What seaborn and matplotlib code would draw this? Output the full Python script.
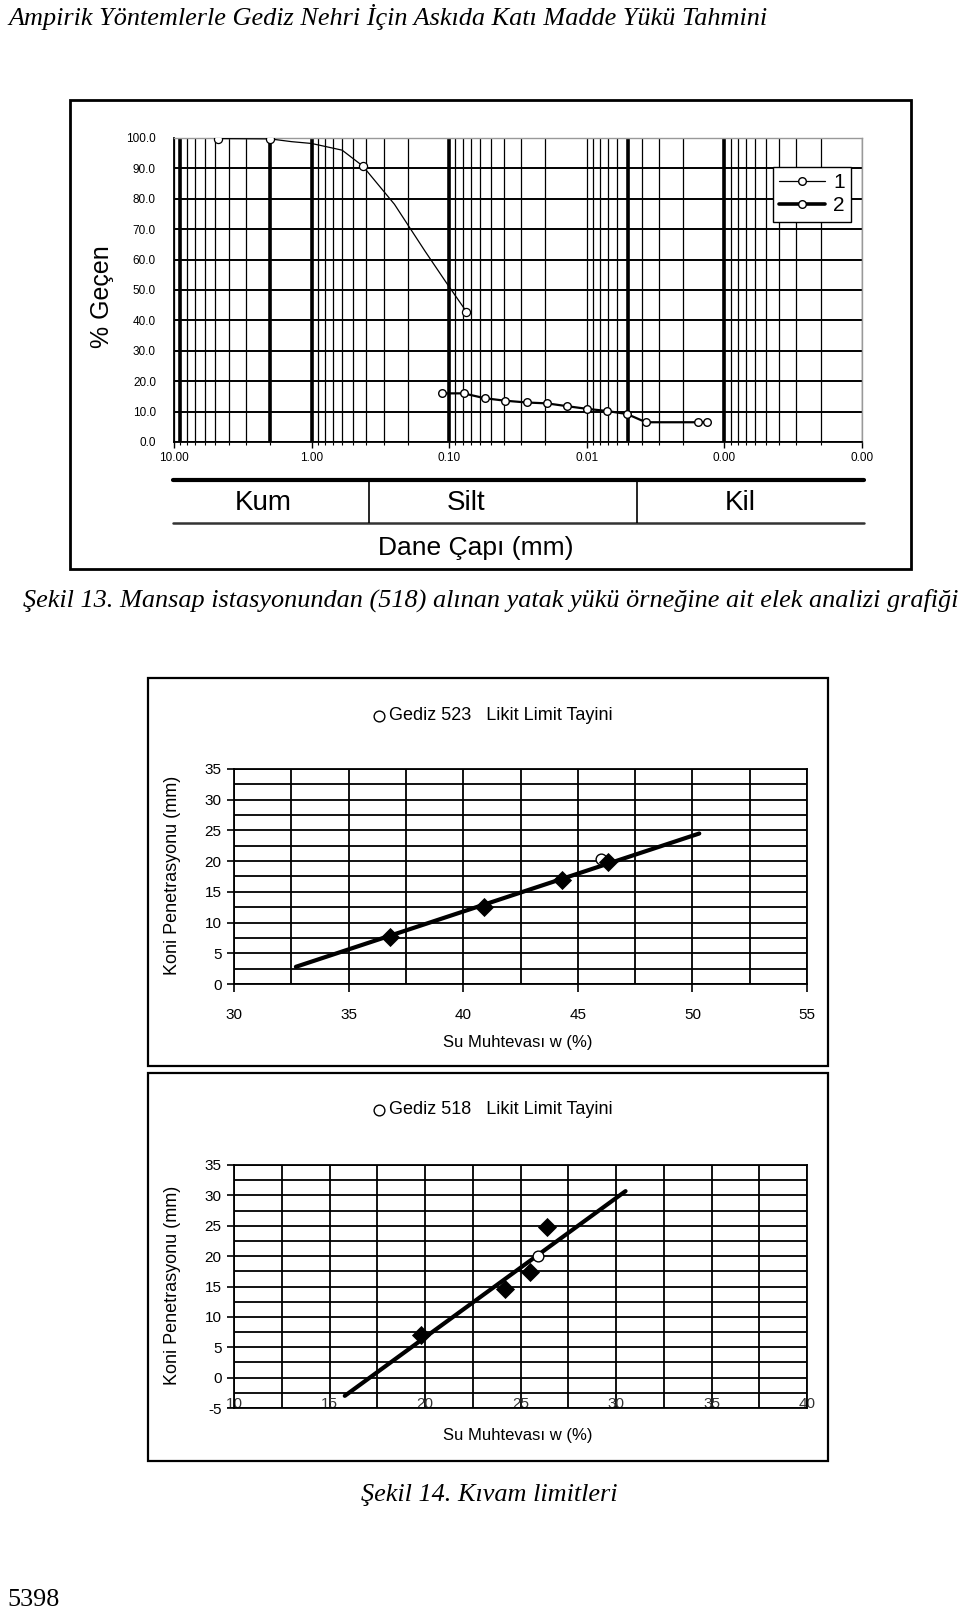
import numpy as np
import pandas as pd
import matplotlib
matplotlib.use("Agg")
import matplotlib.pyplot as plt
import seaborn as sns
from matplotlib.patches import Rectangle
from matplotlib.lines import Line2D
from matplotlib.ticker import FixedLocator, LogLocator, NullFormatter, MultipleLocator, FuncFormatter

# ---------------- data ----------------
header = "Ampirik Yöntemlerle Gediz Nehri İçin Askıda Katı Madde Yükü Tahmini"
caption13 = "Şekil 13. Mansap istasyonundan (518) alınan yatak yükü örneğine ait elek analizi grafiği"
caption14 = "Şekil 14. Kıvam limitleri"
page_no = "5398"

# grain size distribution (Sekil 13)
s1_diam = [4.75, 2.0, 1.4, 1.0, 0.6, 0.425, 0.25, 0.15, 0.106, 0.075]
s1_pass = [99.8, 99.7, 98.8, 98.2, 96.0, 90.8, 78.2, 62.8, 52.7, 42.9]
s1_marked = [True, True, False, False, False, True, False, False, False, True]
s2_diam = [0.112, 0.0787, 0.0551, 0.0395, 0.0274, 0.0194, 0.0140, 0.00995,
           0.00713, 0.0051, 0.00372, 0.00156, 0.00134]
s2_pass = [16.0, 16.0, 14.4, 13.6, 13.0, 12.7, 11.8, 10.9, 10.2, 9.2, 6.5, 6.5, 6.5]
series_labels = ["1", "2"]
grain_ticks = [10, 1, 0.1, 0.01, 0.001, 0.0001]
heavy_grid = [9, 2, 1, 0.1, 0.005, 0.001]
soil_classes = ["Kum", "Silt", "Kil"]

# cone penetration (Sekil 14)
w523 = [36.8, 40.9, 44.3, 46.3]
pen523 = [7.7, 12.6, 16.9, 19.9]
ll523_w = [46.0]
ll523_p = [20.3]
fit523_w = [32.7, 50.3]
fit523_p = [2.8, 24.5]

w518 = [19.8, 24.2, 25.5, 26.4]
pen518 = [7.0, 14.6, 17.4, 24.8]
ll518_w = [25.9]
ll518_p = [20.1]
fit518_w = [15.8, 30.5]
fit518_p = [-3.0, 30.7]

# ---------------- style ----------------
sns.set_theme(style="white", rc={"text.color": "black", "axes.labelcolor": "black",
                                 "xtick.color": "black", "ytick.color": "black",
                                 "axes.edgecolor": "black"})
plt.rcParams['font.family'] = ['Liberation Sans', 'DejaVu Sans']
plt.rcParams['axes.unicode_minus'] = False
SERIF = ['Liberation Serif', 'DejaVu Serif']

W, H = 960, 1617
fig = plt.figure(figsize=(W / 100, H / 100), dpi=100)
fig.patch.set_facecolor("white")


def rect(x0, y0, x1, y1):
    return [x0 / W, 1 - y1 / H, (x1 - x0) / W, (y1 - y0) / H]


def frame(x0, y0, x1, y1, lw):
    fig.patches.append(Rectangle((x0 / W, 1 - y1 / H), (x1 - x0) / W, (y1 - y0) / H,
                                 transform=fig.transFigure, fill=False,
                                 edgecolor="black", lw=lw))


# page texts
fig.text(8 / W, 1 - 17 / H, header, ha="left", va="center", fontsize=18.9,
         style="italic", family=SERIF)
fig.text(23 / W, 1 - 600 / H, caption13, ha="left", va="center", fontsize=18.9,
         style="italic", family=SERIF)
fig.text(489 / W, 1 - 1495 / H, caption14, ha="center", va="center", fontsize=18.9,
         style="italic", family=SERIF)
fig.text(7 / W, 1 - 1600 / H, page_no, ha="left", va="center", fontsize=18.8, family=SERIF)

# ---------------- Sekil 13 ----------------
frame(70, 100, 911, 569, 2.0)
ax1 = fig.add_axes(rect(174, 138, 862, 442))
ax1.set_xscale("log")
sieve = pd.DataFrame({"d": s1_diam, "p": s1_pass, "marked": s1_marked})
hydro = pd.DataFrame({"d": s2_diam, "p": s2_pass})
sns.lineplot(data=sieve, x="d", y="p", ax=ax1, color="black", lw=0.9,
             sort=False, estimator=None, zorder=3)
sns.scatterplot(data=sieve[sieve["marked"]], x="d", y="p", ax=ax1, marker="o", s=34,
                color="white", edgecolor="black", linewidth=0.9, zorder=4)
sns.lineplot(data=hydro, x="d", y="p", ax=ax1, color="black", lw=1.6,
             sort=False, estimator=None, zorder=3)
sns.scatterplot(data=hydro, x="d", y="p", ax=ax1, marker="o", s=30,
                color="white", edgecolor="black", linewidth=1.0, zorder=4)
ax1.set_xlim(grain_ticks[0], grain_ticks[-1])
ax1.set_ylim(0, 100)
ax1.xaxis.set_major_locator(FixedLocator(grain_ticks))
ax1.xaxis.set_minor_locator(LogLocator(base=10, subs=np.arange(2, 10)))
ax1.xaxis.set_major_formatter(FuncFormatter(lambda v, _: f"{v:.2f}"))
ax1.xaxis.set_minor_formatter(NullFormatter())
ax1.yaxis.set_major_locator(MultipleLocator(10))
ax1.yaxis.set_major_formatter(FuncFormatter(lambda v, _: f"{v:.1f}"))
ax1.set_axisbelow(True)
ax1.grid(True, which="both", axis="x", color="black", lw=0.9)
ax1.grid(True, which="major", axis="y", color="black", lw=1.4)
for v in heavy_grid:
    ax1.axvline(v, color="black", lw=2.6, zorder=1)
for s in ["top", "right"]:
    ax1.spines[s].set_color("#999999")
    ax1.spines[s].set_linewidth(1.0)
for s in ["left", "bottom"]:
    ax1.spines[s].set_color("black")
    ax1.spines[s].set_linewidth(1.3)
ax1.tick_params(axis="x", which="major", bottom=True, length=4, width=1, pad=3, labelsize=8.5)
ax1.tick_params(axis="x", which="minor", bottom=True, length=2.5, width=0.8)
ax1.tick_params(axis="y", which="both", left=False, pad=7, labelsize=8.5)
ax1.set_xlabel("")
ax1.set_ylabel("% Geçen", fontsize=18)
ax1.yaxis.set_label_coords(-0.105, 0.477)
ax1.yaxis.label.set_va("center")

h1 = Line2D([], [], color="black", lw=0.9, marker="o", ms=5.5, mfc="white", mec="black")
h2 = Line2D([], [], color="black", lw=2.6, marker="o", ms=5.5, mfc="white", mec="black")
ax1.legend([h1, h2], series_labels, loc="upper left",
           bbox_to_anchor=(773 / W, 1 - 167 / H), bbox_transform=fig.transFigure,
           frameon=True, fancybox=False, edgecolor="black", framealpha=1,
           fontsize=15, handlelength=2.2, borderpad=0.3, labelspacing=0.2,
           handletextpad=0.4, borderaxespad=0)

axt = fig.add_axes(rect(173, 480, 864, 523))
axt.set_axis_off()
axt.set_xlim(0, 1)
axt.set_ylim(0, 1)
axt.plot([0, 1], [1, 1], color="black", lw=3.0, clip_on=False)
axt.plot([0, 1], [0, 0], color="#333333", lw=1.8, clip_on=False)
for xf in [0.2836, 0.6715]:
    axt.plot([xf, xf], [0, 1], color="black", lw=1.2)
for name, xf in zip(soil_classes, [0.130, 0.424, 0.8205]):
    axt.text(xf, 0.47, name, ha="center", va="center", fontsize=20)
fig.text(476 / W, 1 - 548 / H, "Dane Çapı (mm)", ha="center", va="center", fontsize=19)


# ---------------- Sekil 14 ----------------
def cone_chart(axrect, xlim, ylim, w, p, llw, llp, fw, fp, title, title_xy,
               xlabel_y, overlap_labels):
    ax = fig.add_axes(axrect)
    sns.lineplot(x=fw, y=fp, ax=ax, color="black", lw=3.0, sort=False,
                 estimator=None, zorder=3)
    sns.scatterplot(x=llw, y=llp, ax=ax, marker="o", s=60, color="white",
                    edgecolor="black", linewidth=1.0, zorder=4, label=title)
    sns.scatterplot(x=w, y=p, ax=ax, marker="D", s=95, color="black",
                    linewidth=0, zorder=5)
    ax.set_xlim(*xlim)
    ax.set_ylim(*ylim)
    ax.xaxis.set_major_locator(MultipleLocator(5))
    ax.xaxis.set_minor_locator(MultipleLocator(2.5))
    ax.yaxis.set_major_locator(MultipleLocator(5))
    ax.yaxis.set_minor_locator(MultipleLocator(2.5))
    ax.set_axisbelow(True)
    ax.grid(True, which="both", color="black", lw=1.3)
    for s in ax.spines.values():
        s.set_color("black")
        s.set_linewidth(1.3)
    ax.tick_params(axis="y", which="major", left=True, length=5, width=1.2,
                   pad=4, labelsize=11)
    ax.tick_params(axis="y", which="minor", left=False)
    if overlap_labels:
        ax.tick_params(axis="x", which="both", bottom=False, length=0, pad=-8,
                       labelsize=11, labelcolor="#333333")
    else:
        ax.tick_params(axis="x", which="major", bottom=True, length=6, width=1.2,
                       pad=11, labelsize=11)
        ax.tick_params(axis="x", which="minor", bottom=False)
    ax.set_xlabel("Su Muhtevası w (%)", fontsize=12)
    ax.xaxis.set_label_coords(0.496, xlabel_y)
    ax.xaxis.label.set_va("center")
    ax.set_ylabel("Koni Penetrasyonu (mm)", fontsize=13)
    ax.yaxis.set_label_coords(-0.108, 0.505)
    ax.yaxis.label.set_va("center")
    ax.legend(loc="center", bbox_to_anchor=title_xy, bbox_transform=fig.transFigure,
              frameon=False, fontsize=13, handletextpad=0.15, handlelength=0.8,
              borderpad=0, borderaxespad=0)
    return ax


frame(148, 678, 828, 1066, 1.6)
cone_chart(rect(234, 769, 807, 984), (30, 55), (0, 35), w523, pen523, ll523_w,
           ll523_p, fit523_w, fit523_p, "Gediz 523   Likit Limit Tayini",
           (492 / W, 1 - 716 / H), -0.274, False)

frame(148, 1073, 828, 1461, 1.6)
cone_chart(rect(234, 1165, 807, 1408), (10, 40), (-5, 35), w518, pen518, ll518_w,
           ll518_p, fit518_w, fit518_p, "Gediz 518   Likit Limit Tayini",
           (492 / W, 1 - 1110 / H), -0.115, True)

fig.savefig("out.png", dpi=100, facecolor="white")
